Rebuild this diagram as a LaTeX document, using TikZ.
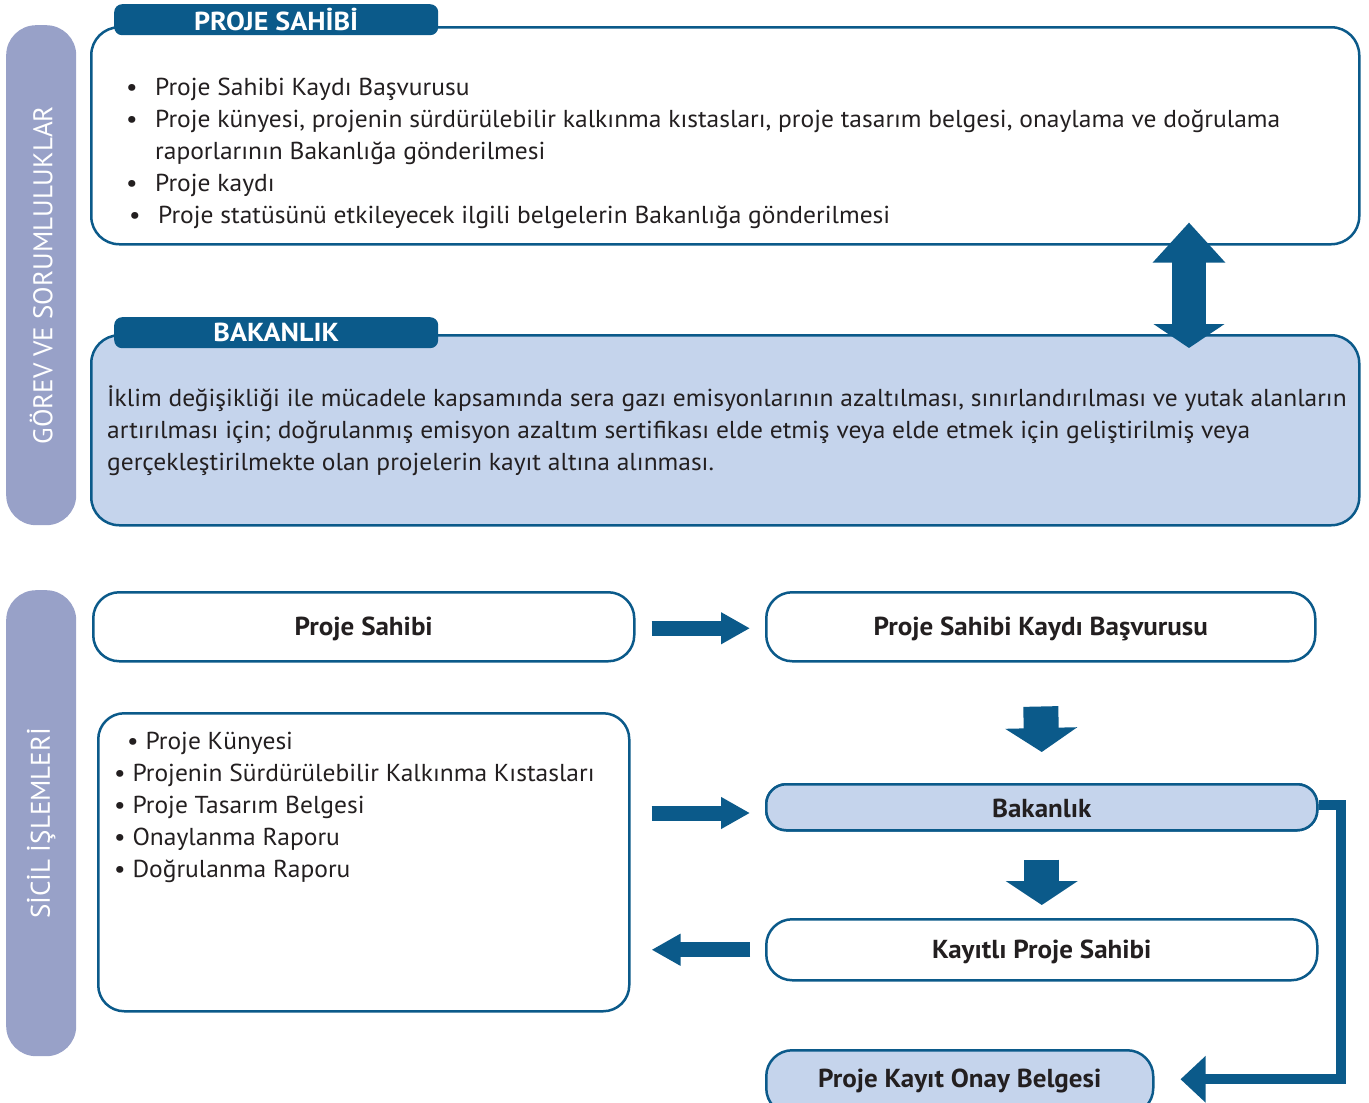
\documentclass[tikz,border=0pt]{standalone}
\usepackage{fontspec}
\setmainfont{PT Sans}
\newfontfamily\bodyf[FakeStretch=1.04]{PT Sans}
\newfontfamily\lblf[FakeStretch=1.04]{PT Sans}
\newfontfamily\tabf[FakeStretch=1.08]{PT Sans}
\usetikzlibrary{arrows.meta}
\definecolor{dblue}{RGB}{11,90,138}
\definecolor{lblue}{RGB}{197,212,236}
\definecolor{lav}{RGB}{152,161,200}
\definecolor{txt}{RGB}{35,31,32}
\begin{document}
\begin{tikzpicture}[x=1pt,y=-1pt,
  side/.style={fill=lav, draw=none, rounded corners=30pt, anchor=north west, inner sep=0pt},
  bigbox/.style={draw=dblue, line width=2.5pt, rounded corners=28pt, anchor=north west, inner sep=0pt},
  tab/.style={fill=dblue, rounded corners=8pt, anchor=north west, inner sep=0pt, minimum width=324pt, minimum height=31pt},
  tabtxt/.style={text=white, font=\tabf\fontsize{26}{30}\selectfont\bfseries},
  flow/.style={draw=dblue, line width=2.5pt, rounded corners=26pt, anchor=north west, inner sep=0pt},
  body/.style={text=txt, font=\bodyf\fontsize{24.5}{32}\selectfont, anchor=base west, inner sep=0pt},
  lbl/.style={text=txt, font=\lblf\fontsize{26}{30}\selectfont\bfseries, inner sep=0pt},
  sidetxt/.style={text=white, font=\fontsize{27}{30}\selectfont, rotate=90, inner sep=0pt},
  blk/.style={draw=none, fill=dblue}
]
\useasboundingbox (0,0) rectangle (1369,1103);
\fill[white] (0,0) rectangle (1369,1103);

% sidebars
\node[side, minimum width=70pt, minimum height=500pt] (s1) at (6,25) {};
\node[sidetxt] (s1t) at (s1.center) {GÖREV VE SORUMLULUKLAR};
\node[side, minimum width=70pt, minimum height=466pt] (s2) at (6,590) {};
\node[sidetxt] (s2t) at ([yshift=0pt]s2.center) {SİCİL İŞLEMLERİ};

% top box
\node[bigbox, fill=white, minimum width=1268pt, minimum height=217pt] (top) at (90,26) {};
\node[tab] (tab1) at (114,4) {};
\node[tabtxt] (tab1t) at (tab1.center) {PROJE SAHİBİ};
\node[body] (b1d) at (126,95) {•};
\node[body] (b1) at (155,95) {Proje Sahibi Kaydı Başvurusu};
\node[body] (b2d) at (126,127) {•};
\node[body] (b2) at (155,127) {Proje künyesi, projenin sürdürülebilir kalkınma kıstasları, proje tasarım belgesi, onaylama ve doğrulama};
\node[body] (b2b) at (155,159) {raporlarının Bakanlığa gönderilmesi};
\node[body] (b3d) at (126,191) {•};
\node[body] (b3) at (155,191) {Proje kaydı};
\node[body] (b4d) at (129,223) {•};
\node[body] (b4) at (158,223) {Proje statüsünü etkileyecek ilgili belgelerin Bakanlığa gönderilmesi};

% ministry box
\node[bigbox, fill=lblue, minimum width=1268pt, minimum height=190pt] (bk) at (90,334) {};
\node[tab] (tab2) at (114,317) {};
\node[tabtxt] (tab2t) at (tab2.center) {BAKANLIK};
\node[body] (m1) at (107,406) {İklim değişikliği ile mücadele kapsamında sera gazı emisyonlarının azaltılması, sınırlandırılması ve yutak alanların};
\node[body] (m2) at (107,438) {artırılması için; doğrulanmış emisyon azaltım sertifikası elde etmiş veya elde etmek için geliştirilmiş veya};
\node[body] (m3) at (107,470) {gerçekleştirilmekte olan projelerin kayıt altına alınması.};

% double arrow
\coordinate (dax) at (1189,0);
\draw[dblue, line width=34pt, {Triangle[width=70pt,length=40pt]}-{Triangle[width=70pt,length=24pt]}]
  ([yshift=23pt]top.south -| dax) -- ([yshift=-14pt]bk.north -| dax);

% flow boxes
\node[flow, fill=white, minimum width=541pt, minimum height=69pt] (psa) at (92,591) {};
\node[lbl] (psat) at ([yshift=-2pt]psa.center) {Proje Sahibi};
\node[flow, fill=white, minimum width=549pt, minimum height=69pt] (psk) at (765,591) {};
\node[lbl] (pskt) at ([yshift=-2pt]psk.center) {Proje Sahibi Kaydı Başvurusu};
\node[flow, fill=white, minimum width=531pt, minimum height=298pt] (ls) at (97,712) {};
\node[body] (l1) at (127,749) {• Proje Künyesi};
\node[body] (l2) at (114,781) {• Projenin Sürdürülebilir Kalkınma Kıstasları};
\node[body] (l3) at (114,813) {• Proje Tasarım Belgesi};
\node[body] (l4) at (114,845) {• Onaylanma Raporu};
\node[body] (l5) at (114,877) {• Doğrulanma Raporu};

% elbow connector (behind ministry box)
\node[flow, fill=lblue, rounded corners=20pt, minimum width=551pt, minimum height=46pt] (bak) at (765,783) {};
\node[flow, fill=white, minimum width=551pt, minimum height=61pt] (kps) at (765,918) {};
\node[flow, fill=lblue, minimum width=387pt, minimum height=64pt] (pko) at (765,1049) {};
\draw[dblue, line width=10pt, line join=miter, -{Triangle[width=45pt,length=25pt]}]
  ([yshift=2.5pt]bak.east) -- ++(22,0) |- ([xshift=26pt,yshift=3pt]pko.east);
\node[flow, fill=lblue, rounded corners=20pt, minimum width=551pt, minimum height=46pt] (bak2) at (765,783) {};
\node[lbl] (bakt) at ([yshift=-1pt]bak2.center) {Bakanlık};
\node[lbl] (kpst) at ([yshift=-2pt]kps.center) {Kayıtlı Proje Sahibi};
\node[lbl] (pkot) at ([yshift=1pt]pko.center) {Proje Kayıt Onay Belgesi};

% block arrows
\draw[dblue, line width=15pt, -{Triangle[width=30pt,length=29pt]}]
  ([xshift=16pt,yshift=-1.5pt]psa.east) -- ([xshift=-15pt,yshift=-1.5pt]psk.west);
\draw[dblue, line width=35pt, -{Triangle[width=71pt,length=24pt]}]
  ([yshift=-44pt]psk.south) -- ([yshift=31pt]bak.north);
\draw[dblue, line width=15pt, -{Triangle[width=30pt,length=29pt]}]
  ([xshift=21pt]ls.east |- 0,813) -- ([xshift=-15pt]bak.west |- 0,813);
\draw[dblue, line width=35pt, -{Triangle[width=71pt,length=24pt]}]
  ([yshift=-28pt]bak.south) -- ([yshift=13pt]kps.north);
\draw[dblue, line width=15pt, -{Triangle[width=30pt,length=29pt]}]
  ([xshift=-15pt]kps.west) -- ([xshift=21pt]ls.east |- kps.west);
\end{tikzpicture}
\end{document}
